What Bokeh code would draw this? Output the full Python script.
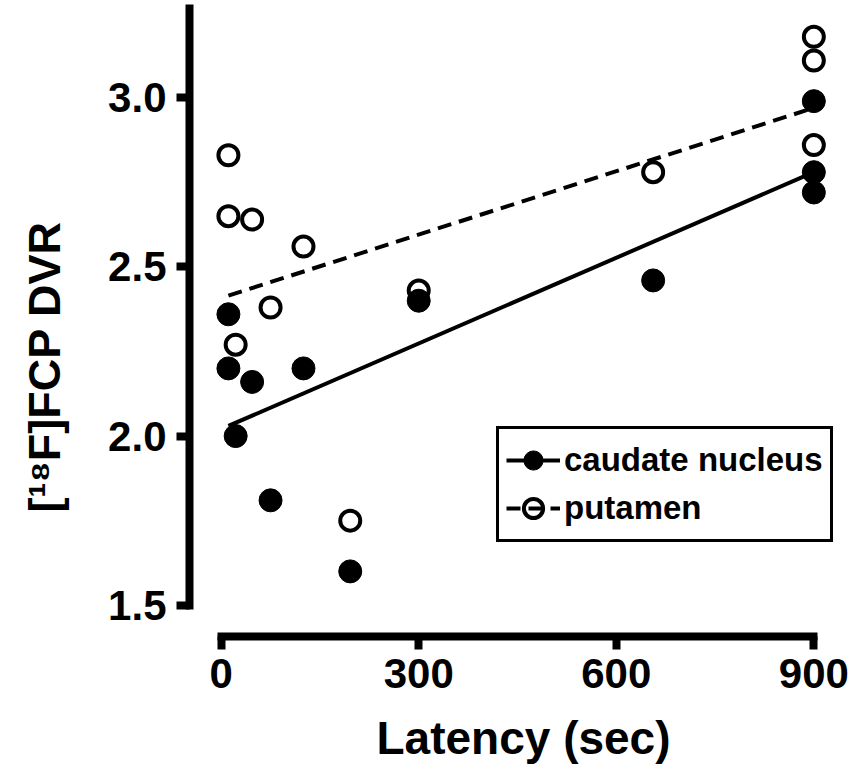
from bokeh.plotting import figure
from bokeh.models import Range1d, FixedTicker, PrintfTickFormatter, Legend, LegendItem, Title
from bokeh.embed import file_html
from bokeh.resources import INLINE

# ---- data ----
latency_caudate = [11, 11, 22, 47, 75, 125, 196, 300, 656, 900, 900, 900]
dvr_caudate = [2.36, 2.20, 2.00, 2.16, 1.81, 2.20, 1.60, 2.40, 2.46, 2.99, 2.78, 2.72]
latency_putamen = [11, 11, 22, 47, 75, 125, 196, 300, 656, 900, 900, 900]
dvr_putamen = [2.83, 2.65, 2.27, 2.64, 2.38, 2.56, 1.75, 2.43, 2.78, 3.18, 3.11, 2.86]
fit_latency = [11, 900]
fit_caudate = [2.03, 2.78]
fit_putamen = [2.415, 2.97]
x_ticks = [0, 300, 600, 900]
y_ticks = [1.5, 2.0, 2.5, 3.0]
x_title = "Latency (sec)"
y_title = "[\u00b9\u2078F]FCP DVR"
legend_labels = ["caudate nucleus", "putamen"]

FONT = "Liberation Sans"

p = figure(width=855, height=769,
           x_range=Range1d(-48.1, 940.5), y_range=Range1d(1.4075, 3.2638),
           output_backend="svg", toolbar_location=None,
           min_border_left=189, min_border_right=15,
           min_border_top=8, min_border_bottom=133)

p.outline_line_color = None
p.xgrid.visible = False
p.ygrid.visible = False
p.background_fill_color = "white"
p.border_fill_color = "white"

for ax in (p.xaxis[0], p.yaxis[0]):
    ax.axis_line_width = 8
    ax.axis_line_color = "black"
    ax.axis_line_cap = "square"
    ax.major_tick_line_width = 8
    ax.major_tick_line_color = "black"
    ax.major_tick_out = 13
    ax.major_tick_in = 0
    ax.minor_tick_line_color = None
    ax.major_label_text_font = FONT
    ax.major_label_text_font_style = "bold"
    ax.major_label_text_font_size = "42px"
    ax.major_label_text_color = "black"

p.xaxis.ticker = FixedTicker(ticks=x_ticks)
p.yaxis.ticker = FixedTicker(ticks=y_ticks)
p.yaxis.formatter = PrintfTickFormatter(format="%.1f")
p.xaxis.bounds = (x_ticks[0], x_ticks[-1])
p.yaxis.bounds = (y_ticks[0], 3.2638)
p.xaxis.major_label_standoff = 9
p.yaxis.major_label_standoff = 10

# points
sp = p.scatter(latency_putamen, dvr_putamen, marker="circle", size=20,
               fill_color="white", line_color="black", line_width=4)
sc = p.scatter(latency_caudate, dvr_caudate, marker="circle", size=23,
               fill_color="black", line_color="black", line_width=1)
# fits
lp = p.line(fit_latency, fit_putamen, line_color="black", line_width=4, line_dash="14 8")
lc = p.line(fit_latency, fit_caudate, line_color="black", line_width=4)

legend = Legend(items=[LegendItem(label=legend_labels[0], renderers=[lc, sc]),
                       LegendItem(label=legend_labels[1], renderers=[sp, lp])],
                location=(307, 94))
legend.margin = 0
legend.padding = 7
legend.spacing = 0
legend.glyph_width = 54
legend.glyph_height = 48
legend.label_standoff = 4
legend.label_width = 258
legend.label_text_font = FONT
legend.label_text_font_style = "bold"
legend.label_text_font_size = "33px"
legend.label_text_color = "black"
legend.border_line_color = "black"
legend.border_line_alpha = 1.0
legend.border_line_width = 3
legend.background_fill_color = "white"
legend.background_fill_alpha = 1.0
p.add_layout(legend)

# spacing panels between the axes and their titles
p.add_layout(Title(text=" ", text_font_size="1px", standoff=11), "below")
p.add_layout(Title(text=" ", text_font_size="1px", standoff=28), "left")

# axis titles
p.add_layout(Title(text=x_title, align="left", offset=187, text_font=FONT,
                   text_font_style="bold", text_font_size="46px", text_color="black",
                   standoff=10), "below")
p.add_layout(Title(text=y_title, align="left", offset=124, text_font=FONT,
                   text_font_style="bold", text_font_size="45px", text_color="black",
                   standoff=10), "left")

open("out.html", "w").write(file_html(p, INLINE))
